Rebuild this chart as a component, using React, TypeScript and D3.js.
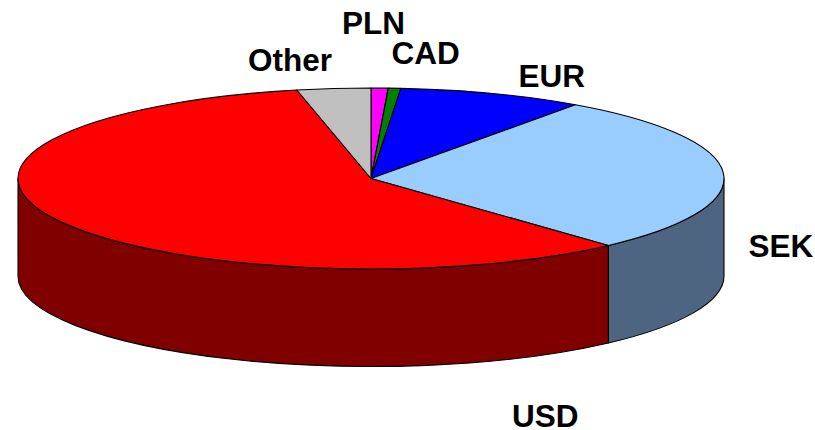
import React from "react";
import * as d3 from "d3";

const categories = ["PLN", "CAD", "EUR", "SEK", "USD", "Other"];
const shares = [0.78, 0.57, 8.48, 28.43, 58.37, 3.37];
const topColors = ["#FF00FF", "#008000", "#0000FF", "#99CCFF", "#FF0000", "#C0C0C0"];
const sideColors = ["#800080", "#004000", "#000080", "#4D6580", "#800000", "#606060"];
const labelAnchors: Record<string, [number, number]> = {
  PLN: [342, 33.5],
  CAD: [391.5, 64],
  EUR: [518.5, 87],
  SEK: [748.5, 257.3],
  USD: [512, 427.3],
  Other: [248, 70.5],
};

const W = 815;
const H = 430;
const cx = 371;
const cy = 178.5;
const rx = 353;
const ry = 90.5;
const depth = 97.5;

const px = (a: number, dy = 0): [number, number] => [cx + rx * Math.sin(a), cy - ry * Math.cos(a) + dy];

const arcs = d3.pie<number>().sort(null)(shares);
const arcGen = d3.arc<d3.PieArcDatum<number>>().innerRadius(0).outerRadius(rx);

function wallPath(a0: number, a1: number): string | null {
  const s = Math.max(a0, Math.PI / 2);
  const e = Math.min(a1, (3 * Math.PI) / 2);
  if (e <= s) return null;
  const [x0, y0] = px(s);
  const [x1, y1] = px(e);
  const [x2, y2] = px(e, depth);
  const [x3, y3] = px(s, depth);
  return `M${x0},${y0}A${rx},${ry} 0 0 1 ${x1},${y1}L${x2},${y2}A${rx},${ry} 0 0 0 ${x3},${y3}Z`;
}

export default function App() {
  return (
    <svg
      width={W}
      height={H}
      viewBox={`0 0 ${W} ${H}`}
      style={{ position: "absolute", left: 0, top: 0, background: "#fff" }}
    >
      <g stroke="#000" strokeWidth={1.1} strokeLinejoin="round">
        {arcs.map((d, i) => {
          const p = wallPath(d.startAngle, d.endAngle);
          return p ? <path key={categories[i]} d={p} fill={sideColors[i]} /> : null;
        })}
      </g>
      <g transform={`translate(${cx},${cy}) scale(1,${ry / rx})`}>
        {arcs.map((d, i) => (
          <path
            key={categories[i]}
            d={arcGen(d) ?? ""}
            fill={topColors[i]}
            stroke="#000"
            strokeWidth={1.1}
            strokeLinejoin="round"
            vectorEffect="non-scaling-stroke"
          />
        ))}
      </g>
      <g fontFamily="'Liberation Sans', Arial, sans-serif" fontWeight="bold" fontSize={31.5} fill="#000">
        {categories.map((c) => (
          <text key={c} x={labelAnchors[c][0]} y={labelAnchors[c][1]}>
            {c}
          </text>
        ))}
      </g>
    </svg>
  );
}
